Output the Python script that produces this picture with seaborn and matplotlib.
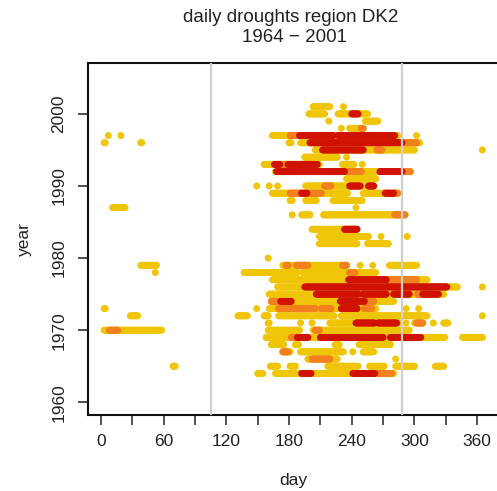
import numpy as np
import pandas as pd
import matplotlib
matplotlib.use("Agg")
import matplotlib.pyplot as plt
import seaborn as sns

# drought spells: (year, first day, last day)
yellow_spells = [
    (2001, 203, 219), (2001, 232, 232),
    (2000, 199, 214), (2000, 227, 255),
    (1999, 218, 218), (1999, 253, 265),
    (1998, 230, 230), (1998, 238, 251),
    (1997, 7, 7), (1997, 19, 19), (1997, 164, 284), (1997, 302, 302),
    (1996, 3, 4), (1996, 38, 39), (1996, 180, 182), (1996, 191, 305),
    (1995, 205, 300), (1995, 365, 365),
    (1994, 195, 226), (1994, 235, 235),
    (1993, 156, 209), (1993, 231, 242), (1993, 250, 250),
    (1992, 167, 296),
    (1991, 235, 263),
    (1990, 149, 149), (1990, 161, 161), (1990, 169, 169), (1990, 196, 261),
    (1989, 164, 236), (1989, 251, 284),
    (1988, 181, 183), (1988, 196, 206), (1988, 222, 250),
    (1987, 11, 23), (1987, 244, 244),
    (1986, 183, 183), (1986, 192, 200), (1986, 213, 291),
    (1984, 202, 245),
    (1983, 209, 256), (1983, 268, 268), (1983, 293, 293),
    (1982, 209, 245), (1982, 255, 275),
    (1980, 160, 160),
    (1979, 38, 53), (1979, 174, 235), (1979, 248, 248), (1979, 260, 260), (1979, 276, 302),
    (1978, 52, 52), (1978, 137, 188), (1978, 193, 263),
    (1977, 164, 312),
    (1976, 169, 341), (1976, 365, 365),
    (1975, 161, 328),
    (1974, 163, 280),
    (1973, 3, 4), (1973, 149, 149), (1973, 161, 263), (1973, 292, 292), (1973, 304, 304),
    (1972, 28, 35), (1972, 131, 140), (1972, 156, 160), (1972, 170, 223), (1972, 230, 312), (1972, 365, 365),
    (1971, 160, 161), (1971, 191, 191), (1971, 202, 202), (1971, 219, 285), (1971, 292, 292),
    (1971, 300, 308), (1971, 318, 318), (1971, 328, 332),
    (1970, 3, 58), (1970, 160, 190), (1970, 203, 295),
    (1969, 158, 329), (1969, 346, 365),
    (1968, 163, 175), (1968, 186, 189), (1968, 224, 228), (1968, 247, 277),
    (1967, 174, 181), (1967, 191, 232), (1967, 241, 241), (1967, 251, 261),
    (1966, 198, 226), (1966, 282, 282),
    (1965, 69, 71), (1965, 162, 169), (1965, 181, 186), (1965, 217, 246), (1965, 257, 271),
    (1965, 282, 300), (1965, 320, 328),
    (1964, 150, 155), (1964, 167, 280),
]

orange_spells = [
    (1998, 249, 251),
    (1997, 181, 190), (1997, 222, 226),
    (1996, 289, 302),
    (1995, 264, 269),
    (1993, 171, 179),
    (1992, 233, 249), (1992, 288, 296),
    (1990, 214, 220),
    (1989, 181, 192), (1989, 198, 211), (1989, 280, 284),
    (1986, 281, 291),
    (1979, 177, 179), (1979, 187, 198), (1979, 231, 235),
    (1978, 238, 243),
    (1977, 273, 302),
    (1975, 246, 251), (1975, 303, 308),
    (1974, 163, 172), (1974, 252, 261),
    (1973, 170, 205), (1973, 211, 220), (1973, 252, 259),
    (1971, 302, 308),
    (1970, 8, 16), (1970, 205, 209),
    (1969, 182, 188),
    (1967, 174, 179),
    (1966, 202, 219),
    (1964, 265, 278),
]

red_spells = [
    (2000, 240, 246),
    (1997, 190, 222), (1997, 227, 281),
    (1996, 200, 288),
    (1995, 212, 251),
    (1993, 166, 171), (1993, 179, 207),
    (1992, 168, 233), (1992, 267, 288),
    (1990, 238, 248), (1990, 256, 261),
    (1989, 192, 197), (1989, 272, 280),
    (1984, 233, 245),
    (1977, 237, 273),
    (1976, 195, 331),
    (1975, 206, 246), (1975, 251, 273), (1975, 280, 295), (1975, 308, 323),
    (1974, 172, 182), (1974, 229, 252),
    (1973, 230, 245),
    (1971, 244, 262), (1971, 265, 283),
    (1969, 188, 198), (1969, 210, 270), (1969, 277, 306),
    (1964, 192, 201), (1964, 241, 262),
]

levels = ["moderate", "severe", "extreme"]
level_colors = ["#F0C505", "#F2801C", "#D01200"]
ref_days = [105, 288]
x_ticks = list(range(0, 361, 30))
x_labels = [str(t) if t % 60 == 0 else "" for t in x_ticks]
y_ticks = [1960, 1970, 1980, 1990, 2000]

rows = []
for lev, spells in zip(levels, [yellow_spells, orange_spells, red_spells]):
    for yr, a, b in spells:
        for d in range(a, b + 1):
            rows.append((d, yr, lev))
df = pd.DataFrame(rows, columns=["day", "year", "level"])

sns.set_theme(style="ticks")
plt.rcParams["font.family"] = ["Liberation Sans", "DejaVu Sans"]

fig = plt.figure(figsize=(4.97, 4.91), dpi=100)
ax = fig.add_axes([88 / 497, 76 / 491, 411 / 497, 352 / 491])

sns.scatterplot(data=df, x="day", y="year", hue="level", hue_order=levels,
                palette=level_colors, s=25, linewidth=0, legend=False, ax=ax, zorder=2)

for d in ref_days:
    ax.axvline(d, color="#cfcfcf", lw=1.6, zorder=3)

ax.set_xlim(-12.45, 380.9)
ax.set_ylim(1958.24, 2007.06)
ax.set_xticks(x_ticks)
ax.set_xticklabels(x_labels)
ax.set_yticks(y_ticks)
ax.set_yticklabels([str(t) for t in y_ticks], rotation=90, va="center")

for side in ["left", "bottom", "top", "right"]:
    ax.spines[side].set_color("#111111")
    ax.spines[side].set_linewidth(1.5)

ax.tick_params(axis="both", direction="out", length=7.5, width=1.1,
               color="#222222", labelsize=12.5, labelcolor="#222222")
ax.tick_params(axis="x", pad=6)
ax.tick_params(axis="y", pad=8)

ax.set_xlabel("day", fontsize=12.5, color="#222222", va="center")
ax.set_ylabel("year", fontsize=12.5, color="#222222", va="center")
ax.xaxis.set_label_coords(0.5, (415 - 481) / 352)
ax.yaxis.set_label_coords((24 - 88) / 411, 0.5)

fig.text(291 / 497, 1 - 17 / 491, "daily droughts region DK2", ha="center", va="center",
         fontsize=13.5, color="#222222")
fig.text(295 / 497, 1 - 37 / 491, "1964 \u2212 2001", ha="center", va="center",
         fontsize=13.5, color="#222222")

fig.savefig("out.png", dpi=100)
